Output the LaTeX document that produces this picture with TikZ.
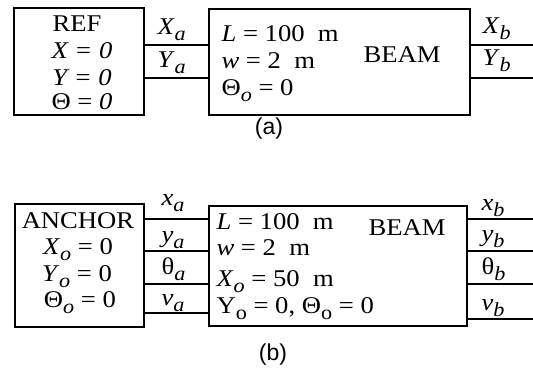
\documentclass[tikz,border=0pt]{standalone}
\usepackage{fontspec}
\setmainfont[FakeStretch=1.11]{Liberation Serif}
\newfontfamily\capfont{Liberation Sans}
\usetikzlibrary{positioning}

\newcommand{\sub}[1]{\raisebox{-6pt}{\fontsize{20}{20}\selectfont\itshape #1}}
\newcommand{\subup}[1]{\raisebox{-6pt}{\fontsize{20}{20}\selectfont #1}}

\begin{document}
\begin{tikzpicture}[x=1pt, y=-1pt, line width=1.1pt,
  blk/.style={draw, inner sep=0pt},
  txt/.style={inner sep=0pt, font=\fontsize{24}{27}\selectfont},
  captxt/.style={inner sep=0pt, font=\capfont\fontsize{23}{25}\selectfont}]
  \useasboundingbox (0,0) rectangle (533,368);
  % (a) reference and beam
  \node[blk, minimum width=130pt, minimum height=107pt] (ref) at (79,61.5) {};
  \node[blk, minimum width=261pt, minimum height=106pt] (beamA) at (339.5,62) {};
  \node[txt, anchor=base] (refT) at (77,31) {REF};
  \node[txt, anchor=base] (refX) at (82,58) {\itshape X = 0};
  \node[txt, anchor=base] (refY) at (82,85) {\itshape Y = 0};
  \node[txt, anchor=base] (refR) at (82,109) {Θ = \textit{0}};
  \node[txt, anchor=base west] (aL) at (221,41) {\textit{L} = 100~~m};
  \node[txt, anchor=base west] (aW) at (221,68) {\textit{w} = 2~~m};
  \node[txt, anchor=base west] (aR) at (221,95) {Θ\sub{o} = 0};
  \node[txt, anchor=base] (aName) at (402,62) {BEAM};
  \foreach \yy/\i in {45/1, 78/2} {
    \coordinate (ea\i) at (533,\yy);
    \draw (ref.east |- ea\i) -- (beamA.west |- ea\i);
    \draw (beamA.east |- ea\i) -- (ea\i);
  }
  \node[txt, anchor=base west] (xa) at (157,34) {\textit{X}\sub{a}};
  \node[txt, anchor=base west] (ya) at (157,67) {\textit{Y}\sub{a}};
  \node[txt, anchor=base west] (xb) at (482,33) {\textit{X}\sub{b}};
  \node[txt, anchor=base west] (yb) at (482,65) {\textit{Y}\sub{b}};
  \node[captxt] (capA) at (269,129) {(a)};
  % (b) anchor and beam
  \node[blk, minimum width=129pt, minimum height=123pt] (anc) at (79.5,265.5) {};
  \node[blk, minimum width=258pt, minimum height=120pt] (beamB) at (338,266) {};
  \node[txt, anchor=base] (ancT) at (78,228) {ANCHOR};
  \node[txt, anchor=base] (ancX) at (78,254) {\textit{X}\sub{o} = 0};
  \node[txt, anchor=base] (ancY) at (77,281) {\textit{Y}\sub{o} = 0};
  \node[txt, anchor=base] (ancR) at (80,307) {Θ\sub{o} = 0};
  \node[txt, anchor=base west] (bL) at (216,229) {\textit{L} = 100~~m};
  \node[txt, anchor=base west] (bW) at (216,255) {\textit{w} = 2~~m};
  \node[txt, anchor=base west] (bX) at (216,286) {\textit{X}\sub{o} = 50~~m};
  \node[txt, anchor=base west] (bY) at (216,313) {Y\subup{o} = 0, Θ\subup{o} = 0};
  \node[txt, anchor=base] (bName) at (407,235) {BEAM};
  \foreach \yy/\i in {219/1, 251/2, 284/3, 313/4}
    \draw (anc.east |- 0,\yy) -- (beamB.west |- 0,\yy);
  \foreach \yy/\i in {219/1, 251/2, 284/3, 319/4} {
    \coordinate (eb\i) at (533,\yy);
    \draw (beamB.east |- eb\i) -- (eb\i);
  }
  \node[txt, anchor=base west] (xa2) at (161,205) {\textit{x}\sub{a}};
  \node[txt, anchor=base west] (ya2) at (161,242) {\textit{y}\sub{a}};
  \node[txt, anchor=base west] (ta2) at (161,274) {θ\sub{a}};
  \node[txt, anchor=base west] (va2) at (161,305) {\textit{v}\sub{a}};
  \node[txt, anchor=base west] (xb2) at (481,210) {\textit{x}\sub{b}};
  \node[txt, anchor=base west] (yb2) at (481,241) {\textit{y}\sub{b}};
  \node[txt, anchor=base west] (tb2) at (481,274) {θ\sub{b}};
  \node[txt, anchor=base west] (vb2) at (481,310) {\textit{v}\sub{b}};
  \node[captxt] (capB) at (273,355) {(b)};
\end{tikzpicture}
\end{document}
